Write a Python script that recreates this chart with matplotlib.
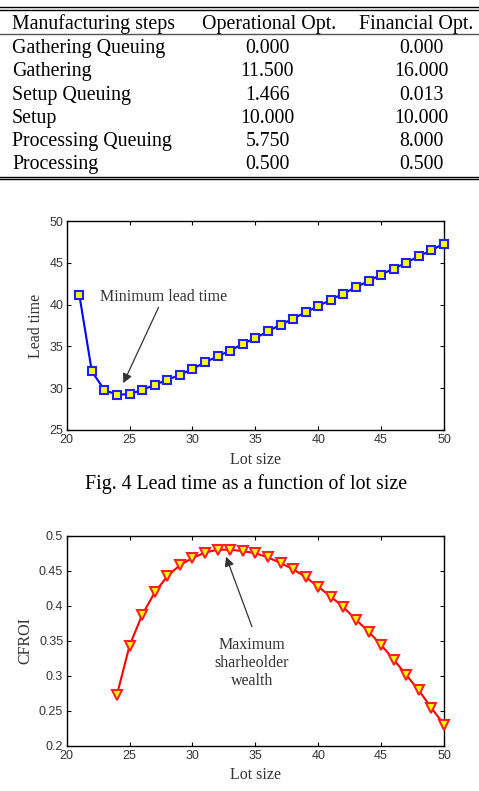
import matplotlib
matplotlib.use("Agg")
import matplotlib.pyplot as plt
from matplotlib.lines import Line2D

# Table data
steps = ["Gathering Queuing", "Gathering", "Setup Queuing", "Setup",
         "Processing Queuing", "Processing"]
operational = ["0.000", "11.500", "1.466", "10.000", "5.750", "0.500"]
financial = ["0.000", "16.000", "0.013", "10.000", "8.000", "0.500"]
headers = ["Manufacturing steps", "Operational Opt.", "Financial Opt."]

# Fig. 4: lead time vs lot size
lot_lead = list(range(21, 51))
lead_time = [41.2, 32.0, 29.8, 29.2, 29.3, 29.8, 30.4, 31.0, 31.6, 32.3,
             33.1, 33.8, 34.5, 35.3, 36.0, 36.8, 37.6, 38.3, 39.1, 39.8,
             40.6, 41.3, 42.1, 42.8, 43.6, 44.3, 45.0, 45.8, 46.5, 47.3]

# Fig. 5: CFROI vs lot size
lot_cfroi = list(range(24, 51))
cfroi = [0.273, 0.343, 0.387, 0.419, 0.442, 0.458, 0.468, 0.476, 0.480,
         0.480, 0.478, 0.475, 0.469, 0.461, 0.452, 0.441, 0.427, 0.413,
         0.398, 0.380, 0.363, 0.344, 0.323, 0.301, 0.279, 0.254, 0.230]

W, H = 479, 791
SERIF = ["Liberation Serif", "DejaVu Serif"]
SANS = ["Liberation Sans", "DejaVu Sans"]

fig = plt.figure(figsize=(W / 100, H / 100), dpi=100)


def fy(py):
    return 1 - py / H


def fx(px):
    return px / W


# ---- table ----
def hline(py, lw, color="black"):
    fig.add_artist(Line2D([0, 1], [fy(py), fy(py)], lw=lw, color=color,
                          transform=fig.transFigure))


hline(7.3, 1.0)
hline(10.3, 1.0)
hline(34, 1.0, "#555555")
hline(176.7, 1.0)
hline(179.2, 1.0)

tsize = 14.3
fig.text(fx(12), fy(24), headers[0], family=SERIF, fontsize=tsize,
         ha="left", va="center")
fig.text(fx(269), fy(24), headers[1], family=SERIF, fontsize=tsize,
         ha="center", va="center")
fig.text(fx(416.5), fy(24), headers[2], family=SERIF, fontsize=tsize,
         ha="center", va="center")
row_y = [48.3, 71.7, 95.3, 118.3, 141.7, 164.3]
for s, o, f, py in zip(steps, operational, financial, row_y):
    fig.text(fx(12), fy(py), s, family=SERIF, fontsize=tsize,
             ha="left", va="center")
    fig.text(fx(267.5), fy(py), o, family=SERIF, fontsize=tsize,
             ha="center", va="center")
    fig.text(fx(421), fy(py), f, family=SERIF, fontsize=tsize,
             ha="center", va="center")


def style_axes(ax):
    ax.tick_params(direction="in", top=True, right=True, length=3,
                   width=0.8, labelsize=9, labelcolor="#333333")
    ax.tick_params(axis="x", pad=3)
    ax.tick_params(axis="y", pad=2.5)
    for lab in ax.get_xticklabels() + ax.get_yticklabels():
        lab.set_family(SANS)
    for sp in ax.spines.values():
        sp.set_linewidth(1.0)


# ---- Fig. 4 ----
ax1 = fig.add_axes([fx(66.7), fy(430), fx(444) - fx(66.7), fy(221) - fy(430)])
ax1.plot(lot_lead, lead_time, color="#0000ff", lw=1.5, marker="s",
         markersize=6.3, markerfacecolor="#ffff00", markeredgecolor="#2020ff",
         markeredgewidth=1.5, clip_on=False, zorder=3)
ax1.set_xlim(20, 50)
ax1.set_ylim(25, 50)
ax1.set_xticks(range(20, 51, 5))
ax1.set_yticks(range(25, 51, 5))
style_axes(ax1)
ax1.set_xlabel("Lot size", family=SERIF, fontsize=11.5, color="#333333",
               labelpad=4)
ax1.set_ylabel("Lead time", family=SERIF, fontsize=11.5, color="#333333",
               labelpad=4)
ax1.annotate("Minimum lead time", xy=(24.5, 30.6), xytext=(27.7, 40.0),
             family=SERIF, fontsize=11.5, color="#333333",
             ha="center", va="bottom",
             arrowprops=dict(arrowstyle="-|>", color="#333333", lw=0.9,
                             mutation_scale=14, shrinkA=0, shrinkB=0))

fig.text(fx(246.5), fy(484), "Fig. 4 Lead time as a function of lot size",
         family=SERIF, fontsize=14.3, ha="center", va="center")

# ---- Fig. 5 ----
ax2 = fig.add_axes([fx(66.7), fy(745.7), fx(444) - fx(66.7),
                    fy(535.7) - fy(745.7)])
ax2.plot(lot_cfroi, cfroi, color="#ff0000", lw=1.5, marker="v",
         markersize=7, markerfacecolor="#ffff00", markeredgecolor="#ff2020",
         markeredgewidth=1.5, clip_on=False, zorder=3)
ax2.set_xlim(20, 50)
ax2.set_ylim(0.2, 0.5)
ax2.set_xticks(range(20, 51, 5))
ax2.set_yticks([0.2, 0.25, 0.3, 0.35, 0.4, 0.45, 0.5])
ax2.set_yticklabels(["0.2", "0.25", "0.3", "0.35", "0.4", "0.45", "0.5"])
style_axes(ax2)
ax2.set_xlabel("Lot size", family=SERIF, fontsize=11.5, color="#333333",
               labelpad=4)
ax2.set_ylabel("CFROI", family=SERIF, fontsize=11.5, color="#333333",
               labelpad=4)
ax2.annotate("", xy=(32.67, 0.470), xytext=(34.73, 0.370),
             arrowprops=dict(arrowstyle="-|>", color="#333333", lw=0.9,
                             mutation_scale=14, shrinkA=0, shrinkB=0))
ax2.text(34.73, 0.318, "Maximum\nsharheolder\nwealth", family=SERIF,
         fontsize=11.5, color="#333333", ha="center", va="center",
         linespacing=1.15)

fig.savefig("out.png", dpi=100)
